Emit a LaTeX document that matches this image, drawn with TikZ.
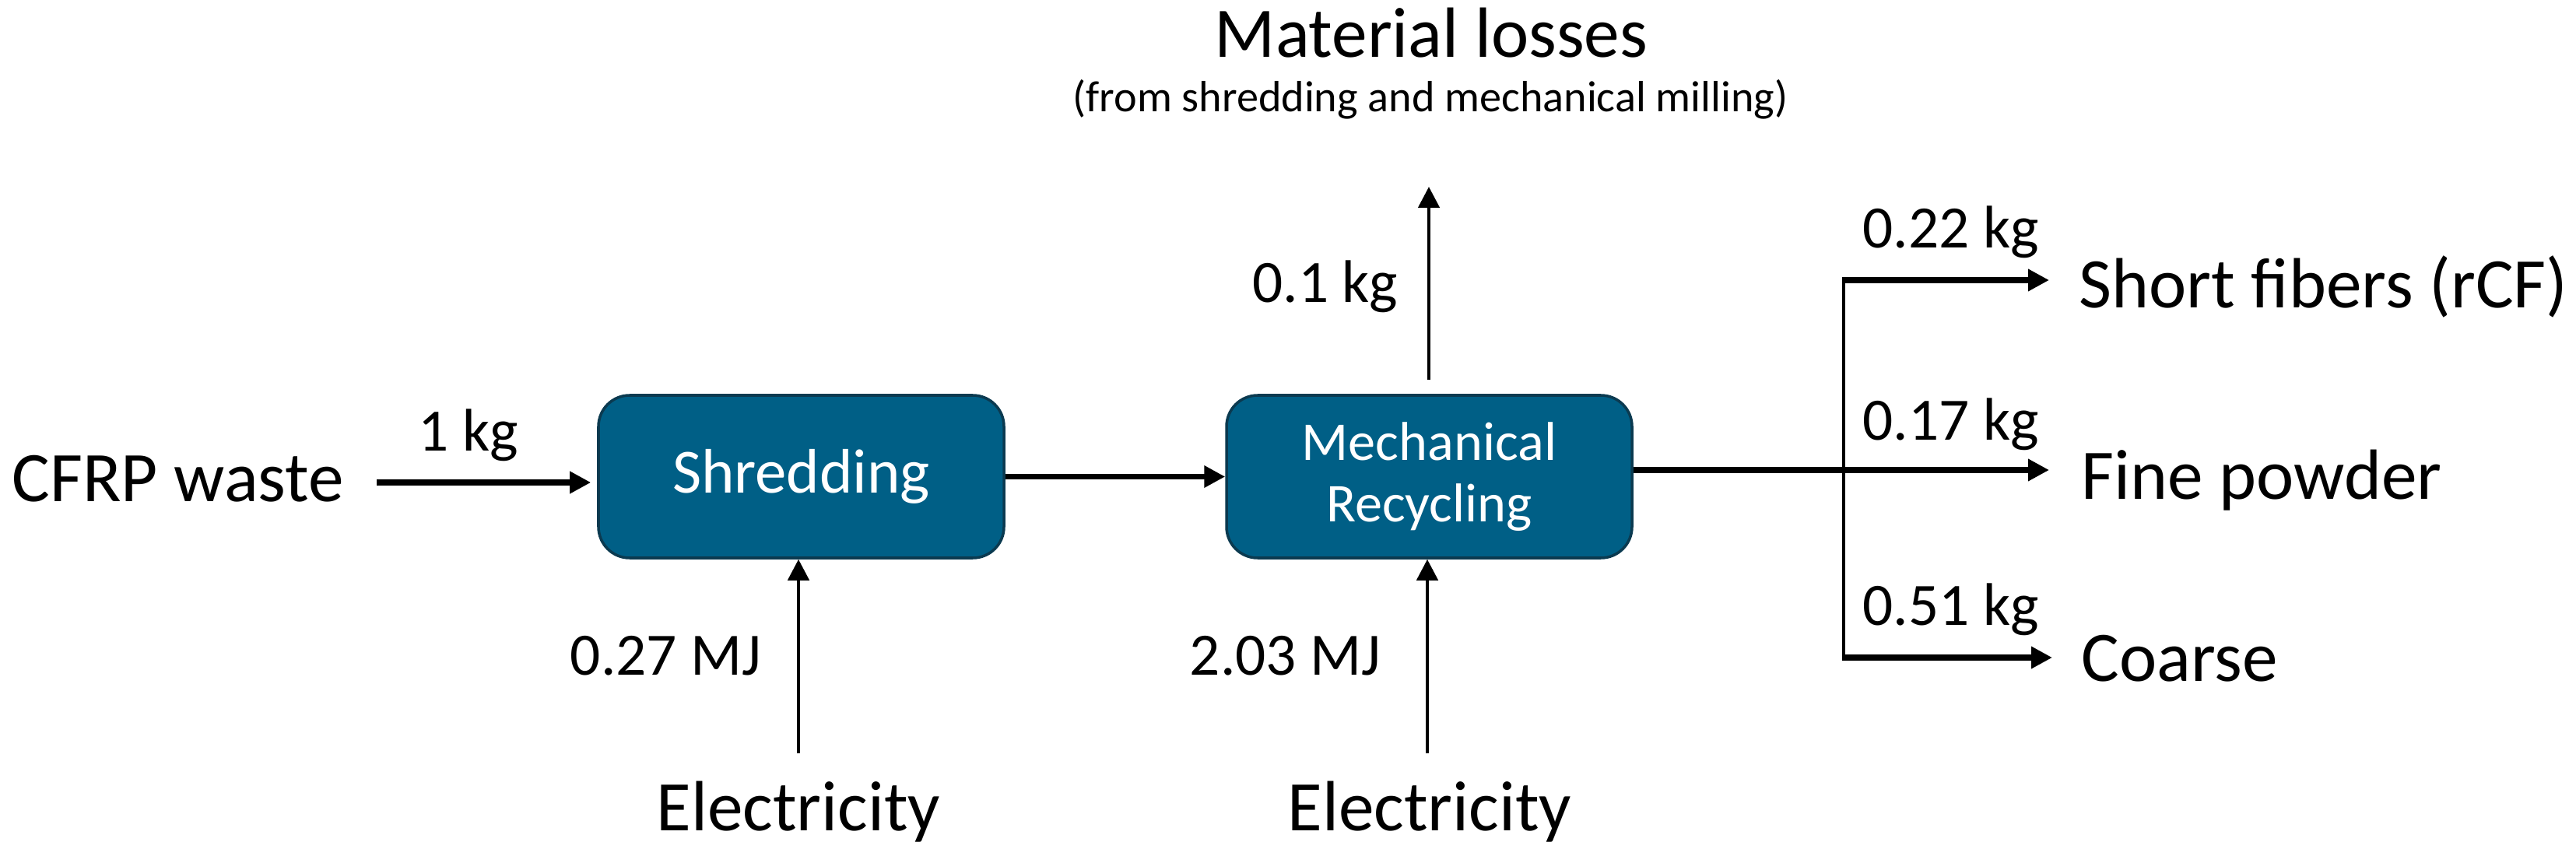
\documentclass[tikz,border=0pt]{standalone}
\usepackage{fontspec}
\setmainfont{Carlito}
\usetikzlibrary{arrows.meta}
\definecolor{boxblue}{HTML}{005F86}
\definecolor{boxedge}{HTML}{0B3A50}
\tikzset{
  bigtxt/.style={inner sep=0pt, font=\fontsize{26}{31}\selectfont},
  numtxt/.style={inner sep=0pt, font=\fontsize{22}{26}\selectfont},
  subtxt/.style={inner sep=0pt, font=\fontsize{16}{19}\selectfont},
  procbox/.style={draw=boxedge, line width=1pt, fill=boxblue, rounded corners=0.4cm,
    minimum width=5.21cm, minimum height=2.09cm, text=white, align=center},
  flowh/.style={line width=2pt, -{Triangle[length=0.27cm, width=0.27cm]}},
  flowv/.style={line width=1.3pt, -{Triangle[length=0.27cm, width=0.27cm]}},
  thinline/.style={line width=1.3pt},
}
\begin{document}
\begin{tikzpicture}
\useasboundingbox (0,0) rectangle (33.10,10.99);
% process boxes
\node[procbox, font=\fontsize{23}{27}\selectfont] (shred) at (10.295,4.865) {Shredding};
\node[procbox, font=\fontsize{20}{22.5}\selectfont] (mech) at (18.365,4.865) {Mechanical\\Recycling};
% inputs
\node[bigtxt, anchor=base west] (cfrp) at (0.15,4.55) {CFRP waste};
\coordinate (cfrpout) at (4.84,4.79);
\draw[flowh, shorten >=0.08cm] (cfrpout) -- (cfrpout -| shred.west);
\node[numtxt, anchor=base] (onekg) at (6.02,5.20) {1 kg};
\draw[flowh] (shred.east) -- (mech.west);
% electricity
\node[bigtxt, anchor=base] (elec1) at (10.26,0.32) {Electricity};
\node[bigtxt, anchor=base] (elec2) at (18.37,0.32) {Electricity};
\coordinate (e1) at (10.26,1.31);
\coordinate (e2) at (18.34,1.31);
\draw[flowv] (e1) -- (e1 |- shred.south);
\draw[flowv] (e2) -- (e2 |- mech.south);
\node[numtxt, anchor=base east] (mj1) at (9.79,2.32) {0.27 MJ};
\node[numtxt, anchor=base east] (mj2) at (17.75,2.32) {2.03 MJ};
% losses
\node[bigtxt, anchor=base] (loss) at (18.39,10.25) {Material losses};
\node[subtxt, anchor=base] (losssub) at (18.38,9.55) {(from shredding and mechanical milling)};
\coordinate (losstip) at (18.36,8.59);
\draw[flowv, shorten <=0.18cm] (mech.north -| losstip) -- (losstip);
\node[numtxt, anchor=base east] (lkg) at (17.97,7.10) {0.1 kg};
% outputs
\coordinate (j) at (23.69,4.95);
\coordinate (jt) at (23.69,7.39);
\coordinate (jb) at (23.69,2.54);
\coordinate (sft) at (26.33,7.39);
\coordinate (fpt) at (26.33,4.95);
\coordinate (cot) at (26.37,2.54);
\draw[flowh] (mech.east |- j) -- (fpt);
\draw[thinline] (jt) -- (jb);
\draw[flowh] ([xshift=-0.65pt]jt) -- (sft);
\draw[flowh] ([xshift=-0.65pt]jb) -- (cot);
\node[numtxt, anchor=base west] (k1) at (23.93,7.80) {0.22 kg};
\node[numtxt, anchor=base west] (k2) at (23.93,5.34) {0.17 kg};
\node[numtxt, anchor=base west] (k3) at (23.93,2.96) {0.51 kg};
\node[bigtxt, anchor=base west] (sf) at (26.71,7.03) {Short fibers (rCF)};
\node[bigtxt, anchor=base west] (fp) at (26.74,4.58) {Fine powder};
\node[bigtxt, anchor=base west] (co) at (26.74,2.24) {Coarse};
\end{tikzpicture}
\end{document}
